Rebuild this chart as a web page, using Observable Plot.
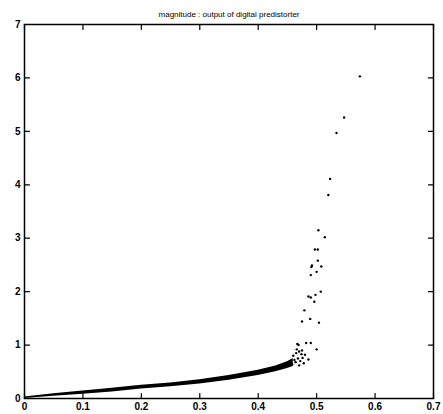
<!DOCTYPE html>
<html>
<head>
<meta charset="utf-8">
<script src="https://cdn.jsdelivr.net/npm/d3@7"></script>
<script src="https://cdn.jsdelivr.net/npm/@observablehq/plot@0.6"></script>
<style>
  html, body { margin: 0; padding: 0; background: #fff; }
  #chart svg { display: block; }
</style>
</head>
<body>
<div id="chart"></div>
<script>
const titleText = "magnitude : output of digital predistorter";
const xTicks = [0, 0.1, 0.2, 0.3, 0.4, 0.5, 0.6, 0.7];
const yTicks = [0, 1, 2, 3, 4, 5, 6, 7];

// dense band of points (lower / upper edge)
const bandX    = [0,    0.05, 0.10, 0.15, 0.20, 0.25, 0.30, 0.35, 0.40, 0.43, 0.45, 0.46];
const bandLow  = [0.00, 0.04, 0.08, 0.12, 0.18, 0.22, 0.27, 0.34, 0.43, 0.50, 0.56, 0.60];
const bandHigh = [0.03, 0.09, 0.14, 0.19, 0.25, 0.29, 0.35, 0.43, 0.53, 0.61, 0.69, 0.75];

// scattered points
const ptX = [0.574, 0.547, 0.534, 0.523, 0.520, 0.503, 0.514, 0.497, 0.502, 0.502, 0.492, 0.491, 0.508, 0.500, 0.490,
             0.507, 0.498, 0.486, 0.490, 0.496, 0.479, 0.489, 0.475, 0.504, 0.467, 0.469, 0.482, 0.490, 0.500, 0.486,
             0.460, 0.465, 0.470, 0.474, 0.468, 0.476, 0.472, 0.464, 0.478, 0.470, 0.462, 0.458, 0.475, 0.480, 0.466];
const ptY = [6.03, 5.26, 4.97, 4.11, 3.81, 3.15, 3.02, 2.79, 2.79, 2.58, 2.49, 2.46, 2.47, 2.37, 2.31,
             2.00, 1.94, 1.91, 1.89, 1.81, 1.65, 1.49, 1.44, 1.42, 1.02, 1.00, 1.04, 1.04, 0.92, 0.73,
             0.80, 0.85, 0.88, 0.83, 0.75, 0.76, 0.70, 0.68, 0.66, 0.62, 0.72, 0.64, 0.90, 0.82, 0.92];

const band = bandX.map((x, i) => ({x, lo: bandLow[i], hi: bandHigh[i]}));
const pts = ptX.map((x, i) => ({x, y: ptY[i]}));

const tickShape = {draw(context, l) { context.moveTo(0, 0); context.lineTo(0, -l); }};
const font = "'Liberation Sans Narrow', 'Liberation Sans', Arial, sans-serif";

const chart = Plot.plot({
  width: 443,
  height: 414,
  marginLeft: 24,
  marginRight: 10,
  marginTop: 24,
  marginBottom: 16,
  style: {fontFamily: font, background: "#fff", color: "#000"},
  x: {domain: [0, 0.7]},
  y: {domain: [0, 7]},
  marks: [
    Plot.areaY(band, {x: "x", y1: "lo", y2: "hi", fill: "#000", curve: "linear"}),
    Plot.dot(pts, {x: "x", y: "y", r: 1.2, fill: "#000", stroke: null}),
    Plot.frame({stroke: "#000", strokeWidth: 1.5}),
    Plot.vector(xTicks, {x: d => d, frameAnchor: "bottom", length: 5, rotate: 0, anchor: "start", shape: tickShape, stroke: "#000", strokeWidth: 1.2}),
    Plot.vector(xTicks, {x: d => d, frameAnchor: "top", length: 5, rotate: 180, anchor: "start", shape: tickShape, stroke: "#000", strokeWidth: 1.2}),
    Plot.vector(yTicks, {y: d => d, frameAnchor: "left", length: 5, rotate: 90, anchor: "start", shape: tickShape, stroke: "#000", strokeWidth: 1.2}),
    Plot.vector(yTicks, {y: d => d, frameAnchor: "right", length: 5, rotate: -90, anchor: "start", shape: tickShape, stroke: "#000", strokeWidth: 1.2}),
    Plot.axisX(xTicks, {tickSize: 0, tickPadding: 4, label: null, fontSize: 10, fontWeight: "bold", tickFormat: d => d === 0 ? "0" : d3.format(".1f")(d)}),
    Plot.axisY(yTicks, {tickSize: 0, tickPadding: 4, label: null, fontSize: 10, fontWeight: "bold", tickFormat: d => String(d)}),
    Plot.text([titleText], {frameAnchor: "top", lineAnchor: "bottom", dy: -8, fontSize: 8, fill: "#000"})
  ]
});
document.getElementById("chart").appendChild(chart);
</script>
</body>
</html>
